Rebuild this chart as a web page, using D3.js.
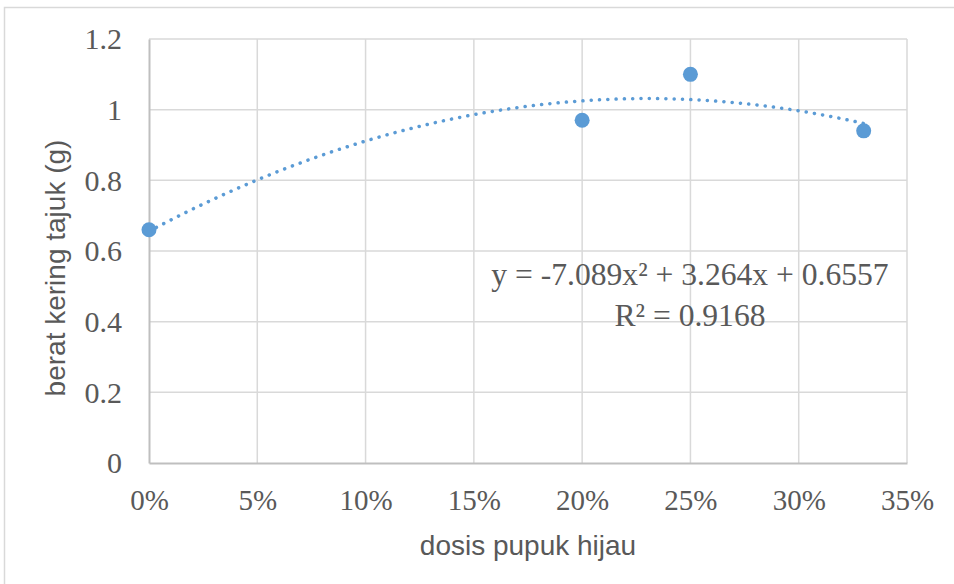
<!DOCTYPE html>
<html>
<head>
<meta charset="utf-8">
<script src="https://cdn.jsdelivr.net/npm/d3@7"></script>
<style>
  html, body { margin: 0; padding: 0; background: #fff; }
  svg { display: block; }
</style>
</head>
<body>
<svg id="chart" width="954" height="584"></svg>
<script>
// ---- data ----
const doses = [0, 0.20, 0.25, 0.33];            // dosis pupuk hijau
const weights = [0.66, 0.97, 1.10, 0.94];       // berat kering tajuk (g)
const xTicks = [0, 0.05, 0.10, 0.15, 0.20, 0.25, 0.30, 0.35];
const yTicks = [0, 0.2, 0.4, 0.6, 0.8, 1, 1.2];
const yTickLabels = ["0", "0.2", "0.4", "0.6", "0.8", "1", "1.2"];
const trendCoeffs = [-7.089, 3.264, 0.6557];   // a x^2 + b x + c (from chart label)
const equationLines = ["y = -7.089x² + 3.264x + 0.6557", "R² = 0.9168"];
const xTitle = "dosis pupuk hijau";
const yTitle = "berat kering tajuk (g)";

(function () {
// ---- layout ----
const svg = d3.select("#chart");
const pLeft = 149, pRight = 907, pTop = 39, pBottom = 463;
const x = d3.scaleLinear().domain([0, 0.35]).range([pLeft, pRight]);
const y = d3.scaleLinear().domain([0, 1.2]).range([pBottom, pTop]);
const blue = "#5b9bd5";
const textGray = "#595959";

// outer chart border
svg.append("rect")
  .attr("x", 4.5).attr("y", 7.5)
  .attr("width", 1000).attr("height", 600)
  .attr("fill", "none").attr("stroke", "#d9d9d9").attr("stroke-width", 1.5);

// gridlines
const grid = svg.append("g");
grid.selectAll("line.h").data(yTicks.filter(d => d > 0)).enter().append("line")
  .attr("x1", pLeft).attr("x2", pRight)
  .attr("y1", d => y(d)).attr("y2", d => y(d))
  .attr("stroke", "#d9d9d9").attr("stroke-width", 1.5);
grid.selectAll("line.v").data(xTicks.filter(d => d > 0)).enter().append("line")
  .attr("x1", d => x(d)).attr("x2", d => x(d))
  .attr("y1", pTop).attr("y2", pBottom)
  .attr("stroke", "#d9d9d9").attr("stroke-width", 1.5);

// axes
const xAxis = d3.axisBottom(x).tickValues(xTicks).tickSize(0).tickPadding(0)
  .tickFormat(d => Math.round(d * 100) + "%");
const gx = svg.append("g").attr("transform", `translate(0,${pBottom})`).call(xAxis);
gx.select(".domain").attr("stroke", "#bfbfbf").attr("stroke-width", 2);
gx.selectAll("text")
  .attr("y", 47).attr("dy", null)
  .attr("fill", textGray)
  .style("font-family", "'Liberation Serif', 'Times New Roman', serif")
  .style("font-size", "29px");

const yAxis = d3.axisLeft(y).tickValues(yTicks).tickSize(0).tickPadding(0)
  .tickFormat((d, i) => yTickLabels[i]);
const gy = svg.append("g").attr("transform", `translate(${pLeft},0)`).call(yAxis);
gy.select(".domain").attr("stroke", "#bfbfbf").attr("stroke-width", 2);
gy.selectAll("text")
  .attr("x", -27).attr("dy", "0.33em")
  .attr("fill", textGray)
  .style("font-family", "'Liberation Serif', 'Times New Roman', serif")
  .style("font-size", "30px");

// trendline (polynomial, order 2)
const poly = v => trendCoeffs[0] * v * v + trendCoeffs[1] * v + trendCoeffs[2];
const xs = d3.range(0, doses[doses.length - 1] + 1e-9, 0.001);
svg.append("path")
  .datum(xs)
  .attr("d", d3.line().x(d => x(d)).y(d => y(poly(d))))
  .attr("fill", "none")
  .attr("stroke", blue)
  .attr("stroke-width", 3.5)
  .attr("stroke-linecap", "round")
  .attr("stroke-dasharray", "0.1 8.2");

// points
svg.append("g").selectAll("circle")
  .data(doses.map((d, i) => [d, weights[i]]))
  .enter().append("circle")
  .attr("cx", d => x(d[0])).attr("cy", d => y(d[1]))
  .attr("r", 7.5).attr("fill", blue);

// equation label
svg.append("g").selectAll("text")
  .data(equationLines).enter().append("text")
  .attr("x", 690).attr("y", (d, i) => 285 + i * 41)
  .attr("text-anchor", "middle")
  .attr("fill", textGray)
  .style("font-family", "'Liberation Serif', 'Times New Roman', serif")
  .style("font-size", "31.6px")
  .text(d => d);

// axis titles
svg.append("text")
  .attr("x", (pLeft + pRight) / 2).attr("y", 555)
  .attr("text-anchor", "middle").attr("fill", textGray)
  .style("font-family", "'Liberation Sans', Arial, sans-serif")
  .style("font-size", "28px")
  .text(xTitle);

svg.append("text")
  .attr("transform", "translate(65,268) rotate(-90)")
  .attr("text-anchor", "middle").attr("fill", textGray)
  .style("font-family", "'Liberation Sans', Arial, sans-serif")
  .style("font-size", "28px")
  .text(yTitle);
})();
</script>
</body>
</html>
